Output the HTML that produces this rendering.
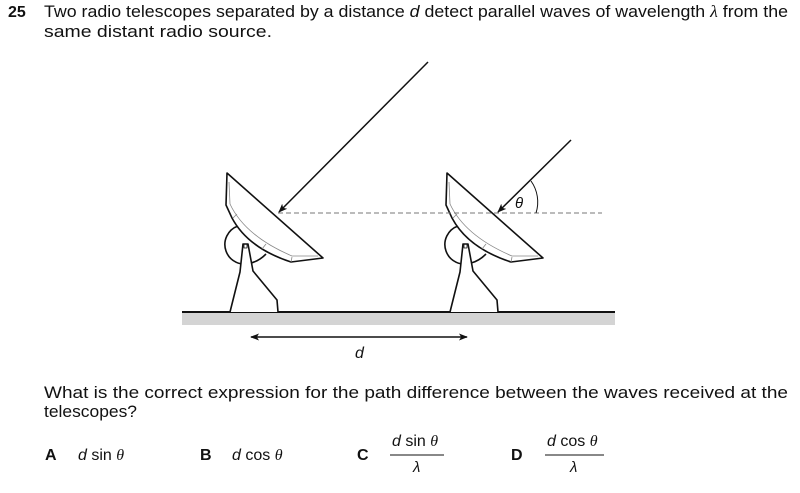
<!DOCTYPE html>
<html><head><style>
html,body{margin:0;padding:0;background:#fff;}
svg{display:block;}
text{font-family:"Liberation Sans",Arial,sans-serif;fill:#111;}
.it{font-style:italic;}
</style></head><body>
<svg width="800" height="493" viewBox="0 0 800 493" xmlns="http://www.w3.org/2000/svg">
<defs>
<marker id="ah" viewBox="0 0 10 10" refX="9" refY="5" markerWidth="9" markerHeight="9" orient="auto-start-reverse" markerUnits="userSpaceOnUse">
<path d="M0,1 L10,5 L0,9 L2.5,5 Z" fill="#111"/>
</marker>
<g id="tel" fill="none" stroke="#111" stroke-width="1.6" stroke-linejoin="round">
  <path d="M238,226 A18,18 0 0 0 251,263 Q259,261 266,254" fill="#fff"/>
  <path d="M227,173 L323,258 L291,262 Q248,248 232,218 L226,205 Z" fill="#fff"/>
  <path d="M229,182 L230,204 Q245,236 292,256 L318,256" stroke="#888" stroke-width="0.8"/>
  <line x1="233" y1="218" x2="237" y2="214" stroke="#888" stroke-width="0.8"/>
  <line x1="262" y1="249" x2="266" y2="244" stroke="#888" stroke-width="0.8"/>
  <line x1="291" y1="262" x2="292" y2="257" stroke="#888" stroke-width="0.8"/>
  <path d="M230,312 L240,272 L243,244 L248,244 L253,271 L277,300 L278,312" fill="#fff"/>
  <rect x="244" y="244" width="3" height="4" stroke-width="0.8"/>
</g>
</defs>
<!-- header -->
<text x="8" y="17" font-size="16" font-weight="bold">25</text>
<text x="44" y="17" font-size="17" textLength="744" lengthAdjust="spacingAndGlyphs">Two radio telescopes separated by a distance <tspan class="it">d</tspan> detect parallel waves of wavelength <tspan class="it" font-family="Liberation Serif">λ</tspan> from the</text>
<text x="44" y="37" font-size="17" textLength="228" lengthAdjust="spacingAndGlyphs">same distant radio source.</text>

<!-- ground -->
<rect x="182" y="312" width="433" height="13" fill="#d4d4d4"/>
<line x1="182" y1="312" x2="615" y2="312" stroke="#111" stroke-width="2"/>

<use href="#tel"/>
<use href="#tel" transform="translate(220,0)"/>

<!-- dashed -->
<line x1="278" y1="213" x2="602" y2="213" stroke="#777" stroke-width="1" stroke-dasharray="5,3"/>
<!-- rays -->
<line x1="428" y1="62" x2="279" y2="212" stroke="#111" stroke-width="1.5" marker-end="url(#ah)"/>
<line x1="571" y1="140" x2="498" y2="212" stroke="#111" stroke-width="1.5" marker-end="url(#ah)"/>
<path d="M531,181 A36,36 0 0 1 536,213" fill="none" stroke="#111" stroke-width="1"/>
<text x="515" y="208" font-size="15" class="it" font-family="Liberation Serif">θ</text>

<!-- d arrow -->
<line x1="251" y1="337" x2="467" y2="337" stroke="#111" stroke-width="1.5" marker-start="url(#ah)" marker-end="url(#ah)"/>
<text x="355" y="358" font-size="16" class="it">d</text>

<!-- question -->
<text x="44" y="398" font-size="17" textLength="744" lengthAdjust="spacingAndGlyphs">What is the correct expression for the path difference between the waves received at the</text>
<text x="44" y="417" font-size="17" textLength="93" lengthAdjust="spacingAndGlyphs">telescopes?</text>

<text x="45" y="460" font-size="16" font-weight="bold">A</text>
<text x="78" y="460" font-size="16"><tspan class="it">d</tspan> sin <tspan class="it" font-family="Liberation Serif">θ</tspan></text>
<text x="200" y="460" font-size="16" font-weight="bold">B</text>
<text x="232" y="460" font-size="16"><tspan class="it">d</tspan> cos <tspan class="it" font-family="Liberation Serif">θ</tspan></text>
<text x="357" y="460" font-size="16" font-weight="bold">C</text>
<text x="392" y="446" font-size="16"><tspan class="it">d</tspan> sin <tspan class="it" font-family="Liberation Serif">θ</tspan></text>
<line x1="390" y1="455" x2="444" y2="455" stroke="#111" stroke-width="1"/>
<text x="413" y="472" font-size="15" class="it" font-family="Liberation Serif">λ</text>
<text x="511" y="460" font-size="16" font-weight="bold">D</text>
<text x="547" y="446" font-size="16"><tspan class="it">d</tspan> cos <tspan class="it" font-family="Liberation Serif">θ</tspan></text>
<line x1="545" y1="455" x2="604" y2="455" stroke="#111" stroke-width="1"/>
<text x="570" y="472" font-size="15" class="it" font-family="Liberation Serif">λ</text>
</svg>
</body></html>
